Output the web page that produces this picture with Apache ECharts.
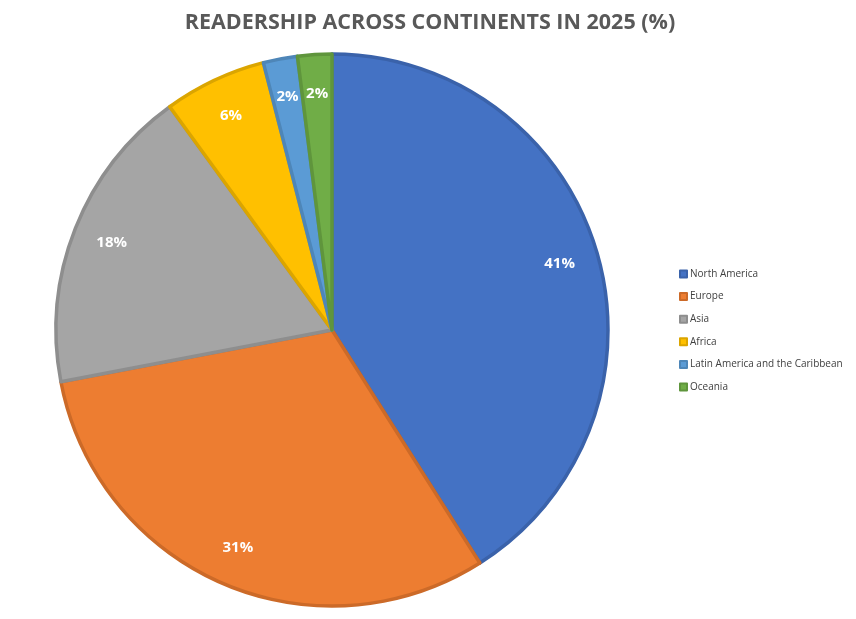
<!DOCTYPE html>
<html><head><meta charset="utf-8">
<script src="https://cdn.jsdelivr.net/npm/echarts@6/dist/echarts.min.js"></script>
<style>html,body{margin:0;padding:0;background:#fff}#main{width:856px;height:619px}</style>
</head><body><div id="main"></div>
<script>
// readership by continent
var continents = ['North America', 'Europe', 'Asia', 'Africa', 'Latin America and the Caribbean', 'Oceania'];
var shares = [41, 31, 18, 6, 2, 2];
var fills = ['#4472C4', '#ED7D31', '#A5A5A5', '#FFC000', '#5B9BD5', '#70AD47'];
var edges = ['#3A62AA', '#CC6A28', '#8E8E8E', '#DBA500', '#4E86B8', '#5F953C'];

var pieData = continents.map(function(n, i){
    return { name: n, value: shares[i], itemStyle: { color: fills[i], borderColor: edges[i] } };
});
var labelData = continents.map(function(n, i){ return { name: n, value: shares[i] }; });

var myChart = echarts.init(document.getElementById('main'));
myChart.setOption({
    title: { text: 'READERSHIP ACROSS CONTINENTS IN 2025 (%)', left: 425, textAlign: 'center', top: 7,
        textStyle: { fontFamily: 'Open Sans', fontWeight: 'bold', fontSize: 21.5, color: '#595959' } },
    legend: { orient: 'vertical', left: 674, top: 264, itemWidth: 7, itemHeight: 7, itemGap: 12.6, icon: 'rect',
        data: continents, selectedMode: false,
        textStyle: { fontFamily: 'Open Sans', fontSize: 10, color: '#404040', padding: [0, 0, 0, -2] } },
    series: [{
        type: 'pie', center: [332, 330], radius: [0, 276], startAngle: 90, clockwise: true,
        silent: true, label: { show: false }, labelLine: { show: false },
        itemStyle: { borderWidth: 3.5 }, data: pieData
    }, {
        type: 'pie', center: [332, 330], radius: [0, 468], startAngle: 90, clockwise: true,
        silent: true, legendHoverLink: false,
        itemStyle: { color: 'rgba(0,0,0,0)' },
        label: { show: true, position: 'inside', formatter: '{c}%', color: '#fff',
            fontFamily: 'Open Sans', fontWeight: 'bold', fontSize: 15 },
        labelLine: { show: false }, data: labelData
    }]
});
</script></body></html>
